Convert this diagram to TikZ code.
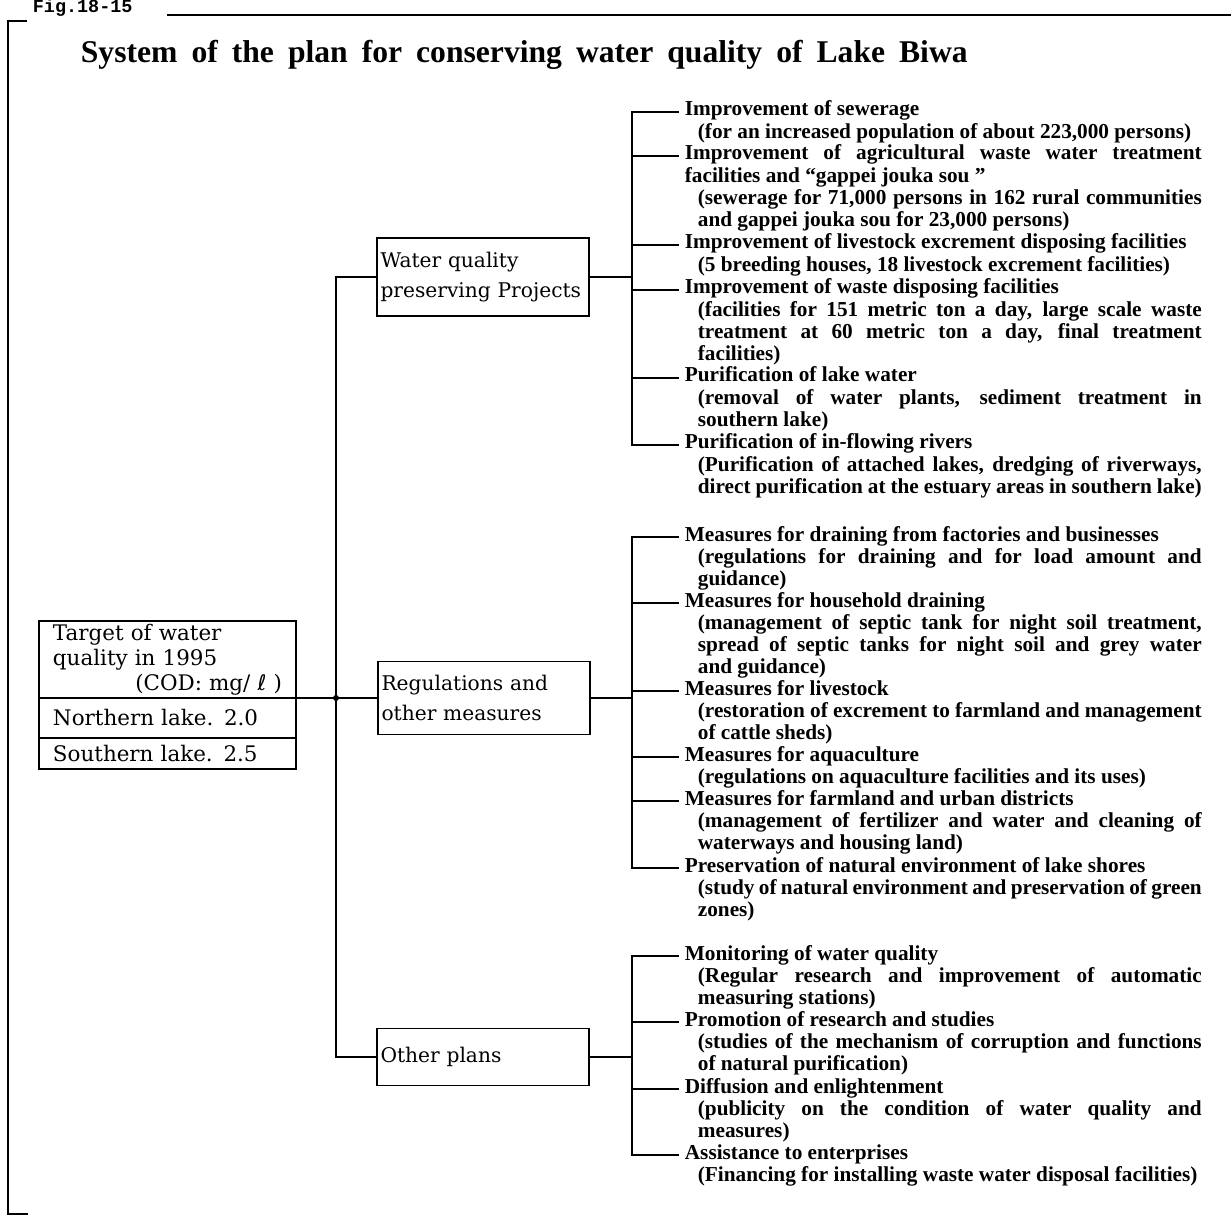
\documentclass[tikz,border=0pt]{standalone}
\usepackage{fontspec}
\setmainfont{Liberation Serif}
\setmonofont{Liberation Mono}
\newfontfamily\boxfont{DejaVu Serif}
\newfontfamily\litrefont{DejaVu Sans}
\usetikzlibrary{positioning}
\hyphenpenalty=10000
\exhyphenpenalty=10000
\newcommand{\itemdetail}[1]{\par\hspace*{0.26cm}\parbox[t]{10.08cm}{#1}}

\begin{document}
\begin{tikzpicture}[x=0.02cm, y=-0.02cm, line width=1pt,
  frame/.style={line width=1.3pt},
  groupbox/.style={draw, line width=1.1pt, minimum width=4.24cm, text width=4.1cm, inner xsep=0.07cm, align=left, font=\boxfont\fontsize{11.5}{17}\selectfont},
  rootpart/.style={draw, line width=1.1pt, minimum width=5.14cm, text width=4.58cm, inner xsep=0.28cm, inner ysep=0pt, outer sep=0pt, align=left, font=\boxfont\fontsize{12.2}{14.2}\selectfont},
  measure/.style={anchor=base west, inner xsep=0.1cm, inner ysep=0pt, text width=10.34cm, align=justify, font=\bfseries\fontsize{12.1}{12.58}\selectfont}]
\useasboundingbox (0,0) rectangle (1231,1226);

\node[anchor=base west, inner sep=0pt, font=\ttfamily\bfseries\fontsize{10.5}{12}\selectfont] (fig) at (32,13) {Fig.18-15};
\draw[frame] (167,15) -- (1231,15);
\draw[frame] (27,21) -- (8,21) -- (8,1214) -- (28,1214);

\node[anchor=base west, inner sep=0pt, font=\bfseries\fontsize{18}{20}\selectfont] (title) at (80,63)
  {\makebox[17.74cm][s]{System of the plan for conserving water quality of Lake Biwa}};

\node[rootpart, minimum height=1.54cm, anchor=north west] (target) at (39,621)
  {Target of water\\quality in 1995\\\hfill(COD: mg/ {\litrefont ℓ} )\hspace*{-0.16cm}};
\node[rootpart, minimum height=0.8cm, below=0pt of target] (north) {Northern lake. 2.0};
\node[rootpart, minimum height=0.62cm, below=0pt of north] (south) {Southern lake. 2.5};

\node[groupbox, minimum height=1.56cm] (wqp) at (483,277) {Water quality\\\mbox{preserving Projects}};
\node[groupbox, minimum height=1.46cm] (regs) at (484,698) {Regulations and\\other measures};
\node[groupbox, minimum height=1.14cm] (other) at (483,1057) {Other plans};

\coordinate (trunk) at (336,698);
\draw (target.south east) -- (regs.west);
\draw (wqp.west) -| (trunk) |- (other.west);
\fill (trunk) circle (0.06cm);

\node[measure] (s1) at (679,116) {Improvement of sewerage\itemdetail
  {(for an increased population of about 223,000 persons)}};
\node[measure] (s2) at (679,160) {Improvement of agricultural waste water treatment\linebreak
  facilities and “gappei jouka sou ”\itemdetail
  {(sewerage for 71,000 persons in 162 rural communities\linebreak and gappei jouka sou for 23,000 persons)}};
\node[measure] (s3) at (679,249) {Improvement of livestock excrement disposing facilities\itemdetail
  {(5 breeding houses, 18 livestock excrement facilities)}};
\node[measure] (s4) at (679,294) {Improvement of waste disposing facilities\itemdetail
  {(facilities for 151 metric ton a day, large scale waste\linebreak treatment at 60 metric ton a day, final treatment\linebreak facilities)}};
\node[measure] (s5) at (679,382) {Purification of lake water\itemdetail
  {(removal of water plants, sediment treatment in\linebreak southern lake)}};
\node[measure] (s6) at (679,449) {Purification of in-flowing rivers\itemdetail
  {(Purification of attached lakes, dredging of riverways,\linebreak direct purification at the estuary areas in southern lake)}};

\node[measure] (r1) at (679,541) {Measures for draining from factories and businesses\itemdetail
  {(regulations for draining and for load amount and\linebreak guidance)}};
\node[measure] (r2) at (679,607) {Measures for household draining\itemdetail
  {(management of septic tank for night soil treatment,\linebreak spread of septic tanks for night soil and grey water\linebreak and guidance)}};
\node[measure] (r3) at (679,695) {Measures for livestock\itemdetail
  {(restoration of excrement to farmland and management\linebreak of cattle sheds)}};
\node[measure] (r4) at (679,761) {Measures for aquaculture\itemdetail
  {(regulations on aquaculture facilities and its uses)}};
\node[measure] (r5) at (679,805) {Measures for farmland and urban districts\itemdetail
  {(management of fertilizer and water and cleaning of\linebreak waterways and housing land)}};
\node[measure] (r6) at (679,872) {Preservation of natural environment of lake shores\itemdetail
  {(study of natural environment and preservation of green\linebreak zones)}};

\node[measure] (o1) at (679,960) {Monitoring of water quality\itemdetail
  {(Regular research and improvement of automatic\linebreak measuring stations)}};
\node[measure] (o2) at (679,1026) {Promotion of research and studies\itemdetail
  {(studies of the mechanism of corruption and functions\linebreak of natural purification)}};
\node[measure] (o3) at (679,1093) {Diffusion and enlightenment\itemdetail
  {(publicity on the condition of water quality and\linebreak measures)}};
\node[measure] (o4) at (679,1159) {Assistance to enterprises\itemdetail
  {(Financing for installing waste water disposal facilities)}};

\coordinate (b1) at (632,0);
\coordinate (b2) at (632,0);
\coordinate (b3) at (632,0);
\draw (wqp.east) -- (wqp.east -| b1);
\draw (s1.mid west) -| (b1 |- s6.mid west) -- (s6.mid west);
\foreach \n in {s2,s3,s4,s5} \draw (\n.mid west) -- (\n.mid west -| b1);
\draw (regs.east) -- (regs.east -| b2);
\draw (r1.mid west) -| (b2 |- r6.mid west) -- (r6.mid west);
\foreach \n in {r2,r3,r4,r5} \draw (\n.mid west) -- (\n.mid west -| b2);
\draw (other.east) -- (other.east -| b3);
\draw (o1.mid west) -| (b3 |- o4.mid west) -- (o4.mid west);
\foreach \n in {o2,o3} \draw (\n.mid west) -- (\n.mid west -| b3);
\end{tikzpicture}
\end{document}
